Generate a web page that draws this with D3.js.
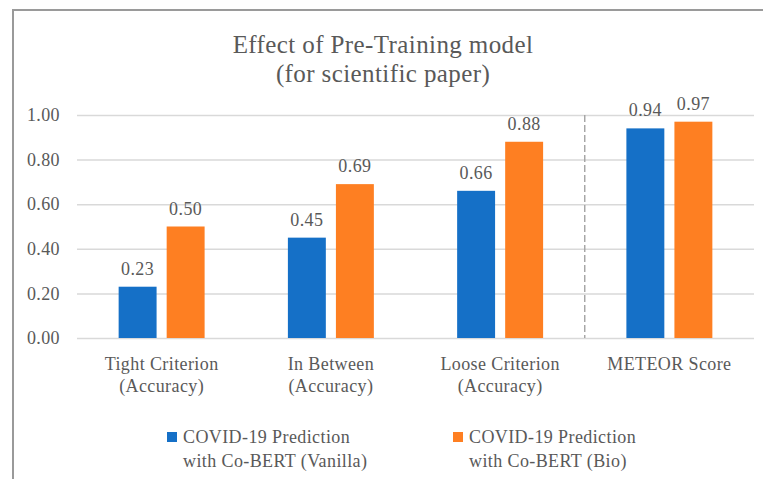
<!DOCTYPE html>
<html><head><meta charset="utf-8">
<script src="https://cdn.jsdelivr.net/npm/d3@7"></script>
<style>body{margin:0;background:#fff}svg{display:block}text{font-family:"Liberation Serif","DejaVu Serif",serif}</style>
</head><body><svg id="c" width="763" height="479"></svg>
<script>
const categories = [["Tight Criterion","(Accuracy)"],["In Between","(Accuracy)"],["Loose Criterion","(Accuracy)"],["METEOR Score"]];
const seriesNames = [["COVID-19 Prediction","with Co-BERT (Vanilla)"],["COVID-19 Prediction","with Co-BERT (Bio)"]];
const vanilla = [0.23, 0.45, 0.66, 0.94];
const bio = [0.50, 0.69, 0.88, 0.97];
const yTicks = [0, 0.2, 0.4, 0.6, 0.8, 1.0];
const colors = ["#1570c7", "#fe7f22"];
const textColor = "#595959";
const fs = 18, ls = 0.4;

const svg = d3.select("#c");
// border
svg.append("path").attr("d","M13,479 V10 H763").attr("fill","none").attr("stroke","#9a9a9a").attr("stroke-width",2);

const pLeft = 77, pRight = 754, pTop = 115, pBottom = 338;
const x = d3.scaleBand().domain(d3.range(categories.length)).range([pLeft, pRight]).paddingInner(0).paddingOuter(0);
const y = d3.scaleLinear().domain([0, 1]).range([pBottom, pTop]);
const x1 = d3.scaleBand().domain([0,1]).range([0, x.bandwidth()]).paddingInner(0.21).paddingOuter(0.867);

// title
const title = svg.append("text").attr("x", 383).attr("y", 53).attr("text-anchor","middle").attr("fill",textColor)
  .attr("font-size",25).attr("letter-spacing",0.4);
title.append("tspan").attr("x",383).text("Effect of Pre-Training model");
title.append("tspan").attr("x",383).attr("dy",29).text("(for scientific paper)");

// gridlines
const yAxis = d3.axisLeft(y).tickValues(yTicks).tickFormat(d3.format(".2f")).tickSize(-(pRight-pLeft)).tickPadding(17);
const gy = svg.append("g").attr("transform",`translate(${pLeft},0)`).call(yAxis);
gy.select(".domain").remove();
gy.selectAll(".tick line").attr("stroke","#d9d9d9").attr("stroke-width",1.5);
gy.selectAll(".tick text").attr("fill",textColor).attr("font-size",fs).attr("letter-spacing",ls).attr("font-family","Liberation Serif");

// dashed separator
svg.append("line").attr("x1", x(3)).attr("x2", x(3)).attr("y1", y(1)).attr("y2", y(0))
  .attr("stroke","#a3a3a3").attr("stroke-width",1.4).attr("stroke-dasharray","7,3");

const data = categories.map((c,i)=>({i, vals:[vanilla[i], bio[i]]}));
const groups = svg.selectAll("g.grp").data(data).join("g").attr("class","grp").attr("transform",d=>`translate(${x(d.i)},0)`);
groups.selectAll("rect").data(d=>d.vals.map((v,s)=>({v,s}))).join("rect")
  .attr("x",d=>x1(d.s)).attr("width",x1.bandwidth())
  .attr("y",d=>y(d.v)).attr("height",d=>y(0)-y(d.v)).attr("fill",d=>colors[d.s]);
groups.selectAll("text.lbl").data(d=>d.vals.map((v,s)=>({v,s}))).join("text").attr("class","lbl")
  .attr("x",d=>x1(d.s)+x1.bandwidth()/2).attr("y",d=>y(d.v)-12).attr("text-anchor","middle")
  .attr("fill",textColor).attr("font-size",fs).attr("letter-spacing",ls).text(d=>d.v.toFixed(2));

// category labels
const xAxis = d3.axisBottom(x).tickSize(0).tickFormat("");
const gx = svg.append("g").attr("transform",`translate(0,${pBottom})`).call(xAxis);
gx.select(".domain").remove();
const catText = svg.selectAll("text.cat").data(categories).join("text").attr("class","cat")
  .attr("x",(d,i)=>x(i)+x.bandwidth()/2).attr("y",370).attr("text-anchor","middle").attr("fill",textColor)
  .attr("font-size",fs).attr("letter-spacing",ls);
catText.selectAll("tspan").data(d=>d).join("tspan").attr("x",function(){return this.parentNode.getAttribute("x");})
  .attr("dy",(d,j)=>j===0?0:22).text(d=>d);

// legend
const legX = [167, 453];
const leg = svg.selectAll("g.leg").data(seriesNames).join("g").attr("class","leg").attr("transform",(d,i)=>`translate(${legX[i]},0)`);
leg.append("rect").attr("x",0).attr("y",432).attr("width",10).attr("height",10).attr("fill",(d,i)=>colors[i]);
const lt = leg.append("text").attr("x",16).attr("y",443).attr("fill",textColor).attr("font-size",fs).attr("letter-spacing",ls);
lt.selectAll("tspan").data(d=>d).join("tspan").attr("x",16).attr("dy",(d,j)=>j===0?0:24).text(d=>d);
</script></body></html>
